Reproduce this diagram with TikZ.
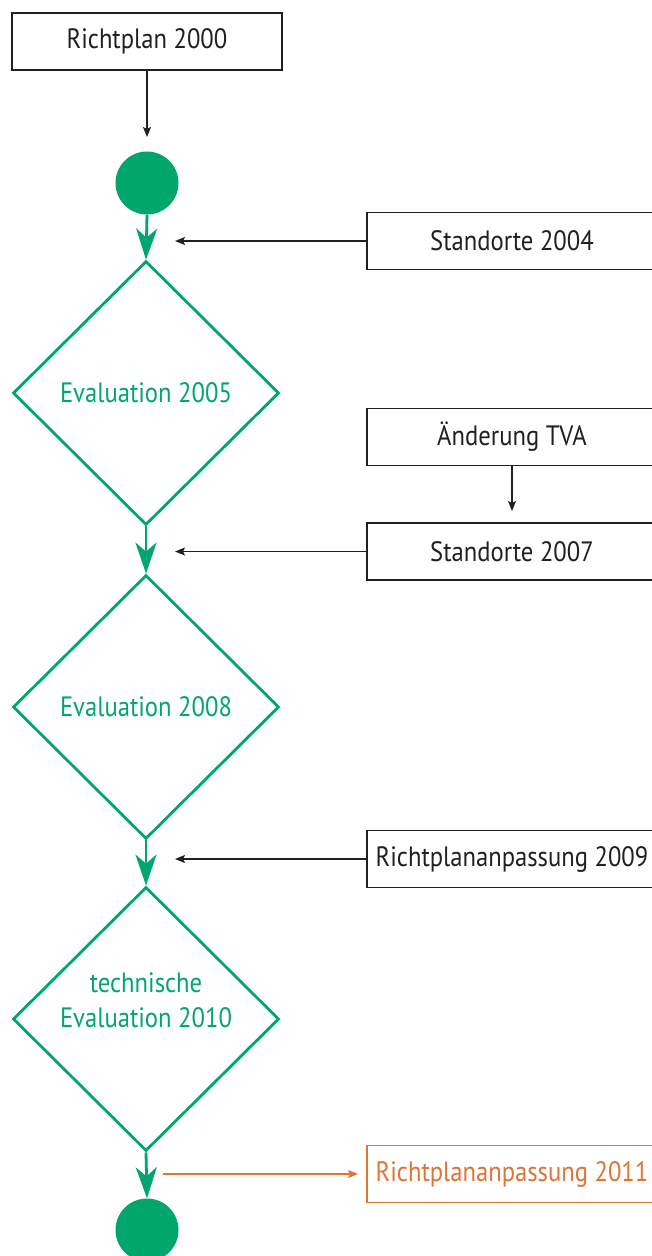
\documentclass[tikz,border=0pt]{standalone}
\usepackage{fontspec}
\setmainfont{PT Sans}[FakeStretch=0.88]
\usetikzlibrary{shapes.geometric,arrows.meta}
\definecolor{grn}{HTML}{00A66C}
\definecolor{org}{HTML}{E07434}
\definecolor{blk}{HTML}{231F20}
\tikzset{
  txt/.style={font=\fontsize{28}{35}\selectfont},
  box/.style={draw=blk, line width=1.3pt, minimum width=290pt, minimum height=57pt, inner sep=0pt, text=blk, txt},
  topbox/.style={box, minimum width=270pt},
  obox/.style={box, draw=org, text=org},
  dia/.style={diamond, draw=grn, line width=2.8pt, minimum width=266pt, minimum height=264pt, inner sep=0pt, text=grn, align=center, txt},
  dot/.style={circle, fill=grn, minimum size=63pt, inner sep=0pt},
  garrow/.style={draw=grn, line width=2.8pt, -{Stealth[length=31pt,width=21pt,inset=9pt]}},
  barrow/.style={draw=blk, line width=1.3pt, -{Stealth[length=10pt,width=8pt,inset=2pt]}},
  oarrow/.style={draw=org, line width=1.3pt, -{Stealth[length=10pt,width=8pt,inset=2pt]}}
}
\begin{document}
\begin{tikzpicture}[x=1pt,y=-1pt]
\useasboundingbox (0,0) rectangle (652,1256);
% main column
\node[topbox] (rp) at (147,41.5) {Richtplan 2000};
\node[dot] (c1) at (147,183) {};
\node[dia] (d1) at (146,393) {Evaluation 2005};
\node[dia] (d2) at (146,707) {Evaluation 2008};
\node[dia] (d3) at (146,1019) {\raisebox{20pt}{\smash{\begin{tabular}{@{}c@{}}technische\\Evaluation 2010\end{tabular}}}};
\node[dot] (c2) at (147,1230) {};
% right column
\node[box] (s04) at (512,241) {Standorte 2004};
\node[box] (tva) at (512,437) {Änderung TVA};
\node[box] (s07) at (512,551.5) {Standorte 2007};
\node[box] (r09) at (512,859) {Richtplananpassung 2009};
\node[obox] (r11) at (512,1174) {Richtplananpassung 2011};
% free ends
\coordinate (t0) at (147,137);
\coordinate (t1) at (175,241);
\coordinate (tt) at (512,511);
\coordinate (t2) at (175,551.5);
\coordinate (t3) at (175,859);
\coordinate (o1) at (163,1174);
\coordinate (o2) at (358,1174);
% connectors
\draw[barrow] (rp.south) -- (t0);
\draw[garrow] (c1.south) -- (d1.north);
\draw[garrow] (d1.south) -- (d2.north);
\draw[garrow] (d2.south) -- (d3.north);
\draw[garrow] (d3.south) -- (c2.north);
\draw[barrow] (s04.west) -- (t1);
\draw[barrow] (tva.south) -- (tt);
\draw[barrow] (s07.west) -- (t2);
\draw[barrow] (r09.west) -- (t3);
\draw[oarrow] (o1) -- (o2);
\end{tikzpicture}
\end{document}
